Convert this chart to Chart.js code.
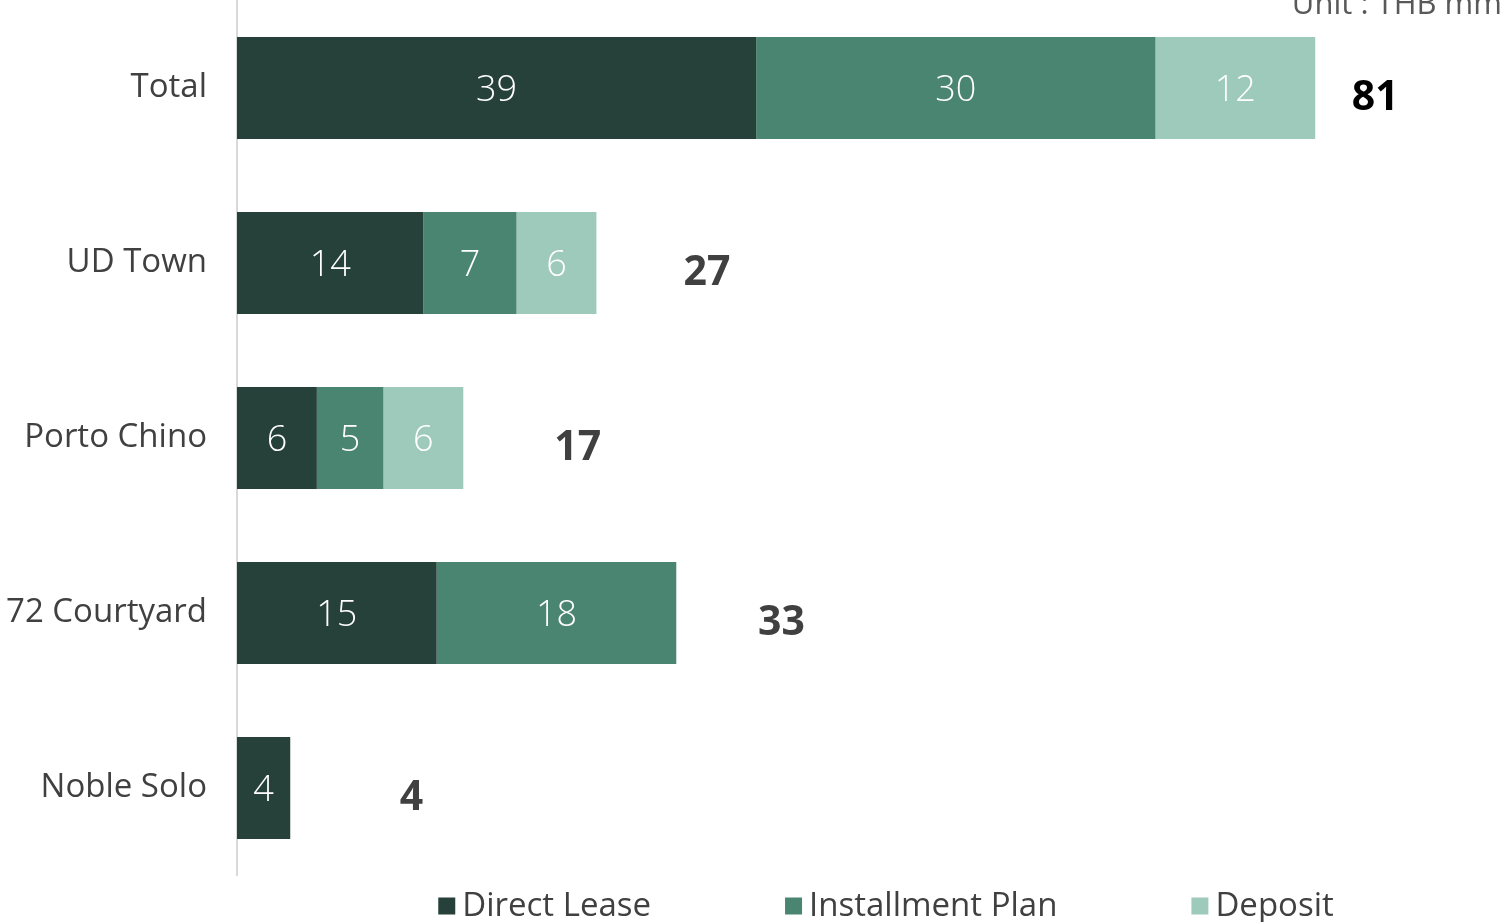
<!DOCTYPE html>
<html>
<head>
<meta charset="utf-8">
<script src="https://cdn.jsdelivr.net/npm/chart.js@4.4.1/dist/chart.umd.min.js"></script>
<style>
  html, body { margin: 0; padding: 0; background: #ffffff; }
  #wrap { width: 1504px; height: 922px; position: relative; }
</style>
</head>
<body>
<div id="wrap"><canvas id="c" width="1504" height="922"></canvas></div>
<script>
const categories = ["Total", "UD Town", "Porto Chino", "72 Courtyard", "Noble Solo"];
const directLease = [39, 14, 6, 15, 4];
const installmentPlan = [30, 7, 5, 18, null];
const deposit = [12, 6, 6, null, null];
const totals = [81, 27, 17, 33, 4];
const seriesNames = ["Direct Lease", "Installment Plan", "Deposit"];
const unitText = "Unit : THB mm";

const FONT = "'Open Sans', 'Noto Sans', sans-serif";
const COLORS = ["#264139", "#4a8572", "#9ecabb"];

const barLabels = {
  id: 'barLabels',
  afterDatasetsDraw(chart) {
    const ctx = chart.ctx;
    ctx.save();
    ctx.fillStyle = '#ffffff';
    ctx.font = `300 36px ${FONT}`;
    ctx.textAlign = 'center';
    ctx.textBaseline = 'middle';
    chart.data.datasets.forEach((ds, di) => {
      const meta = chart.getDatasetMeta(di);
      meta.data.forEach((bar, i) => {
        const v = ds.data[i];
        if (v == null) return;
        ctx.fillText(String(v), (bar.x + bar.base) / 2, bar.y + 3);
      });
    });
    ctx.restore();
  }
};

const totalLabels = {
  id: 'totalLabels',
  afterDatasetsDraw(chart, args, opts) {
    const ctx = chart.ctx;
    const xs = chart.scales.x, ys = chart.scales.y;
    ctx.save();
    ctx.font = `bold 41px ${FONT}`;
    ctx.textAlign = 'center';
    ctx.textBaseline = 'middle';
    totals.forEach((t, i) => {
      ctx.fillStyle = i === 0 ? '#000000' : '#404040';
      const x = xs.getPixelForValue(t + opts.gap[i]);
      const y = ys.getPixelForValue(i) + opts.dy;
      ctx.fillText(String(t), x, y);
    });
    ctx.restore();
  }
};

const unitLabel = {
  id: 'unitLabel',
  afterDraw(chart) {
    const ctx = chart.ctx;
    ctx.save();
    ctx.fillStyle = '#595959';
    ctx.font = `31px ${FONT}`;
    ctx.textAlign = 'right';
    ctx.textBaseline = 'alphabetic';
    ctx.fillText(unitText, 1502, 14);
    ctx.restore();
  }
};

const customLegend = {
  id: 'customLegend',
  afterDraw(chart) {
    const ctx = chart.ctx;
    ctx.save();
    ctx.font = `33px ${FONT}`;
    ctx.textBaseline = 'middle';
    ctx.textAlign = 'left';
    const box = 17, gapText = 7, spacing = 134, cy = 906, cx = 886;
    const widths = chart.data.datasets.map(ds => box + gapText + ctx.measureText(ds.label).width);
    const total = widths.reduce((a, b) => a + b, 0) + spacing * (widths.length - 1);
    let x = cx - total / 2;
    chart.data.datasets.forEach((ds, i) => {
      ctx.fillStyle = ds.backgroundColor;
      ctx.fillRect(x, cy - box / 2, box, box);
      ctx.fillStyle = '#404040';
      ctx.fillText(ds.label, x + box + gapText, cy + 1);
      x += widths[i] + spacing;
    });
    ctx.restore();
  }
};

new Chart(document.getElementById('c'), {
  type: 'bar',
  data: {
    labels: categories,
    datasets: [
      { label: seriesNames[0], data: directLease, backgroundColor: COLORS[0] },
      { label: seriesNames[1], data: installmentPlan, backgroundColor: COLORS[1] },
      { label: seriesNames[2], data: deposit, backgroundColor: COLORS[2] }
    ]
  },
  options: {
    indexAxis: 'y',
    responsive: false,
    animation: false,
    devicePixelRatio: 1,
    layout: { autoPadding: false, padding: { top: 0.5, bottom: 46.5, left: 0, right: 2.4 } },
    datasets: { bar: { categoryPercentage: 1, barPercentage: 0.583, borderWidth: 0 } },
    scales: {
      x: {
        stacked: true, min: 0, max: 95, display: false
      },
      y: {
        stacked: true,
        grid: { display: false, drawTicks: false },
        border: { display: true, color: '#d9d9d9', width: 2 },
        ticks: { color: '#404040', font: { family: FONT, size: 33 }, padding: 30 },
        afterFit(scale) { scale.width = 237; scale.paddingTop = 0; scale.paddingBottom = 0; }
      }
    },
    plugins: {
      legend: { display: false },
      tooltip: { enabled: false },
      totalLabels: { gap: [4.5, 8.3, 8.6, 7.9, 9.1], dy: 10 }
    }
  },
  plugins: [barLabels, totalLabels, unitLabel, customLegend]
});
</script>
</body>
</html>
